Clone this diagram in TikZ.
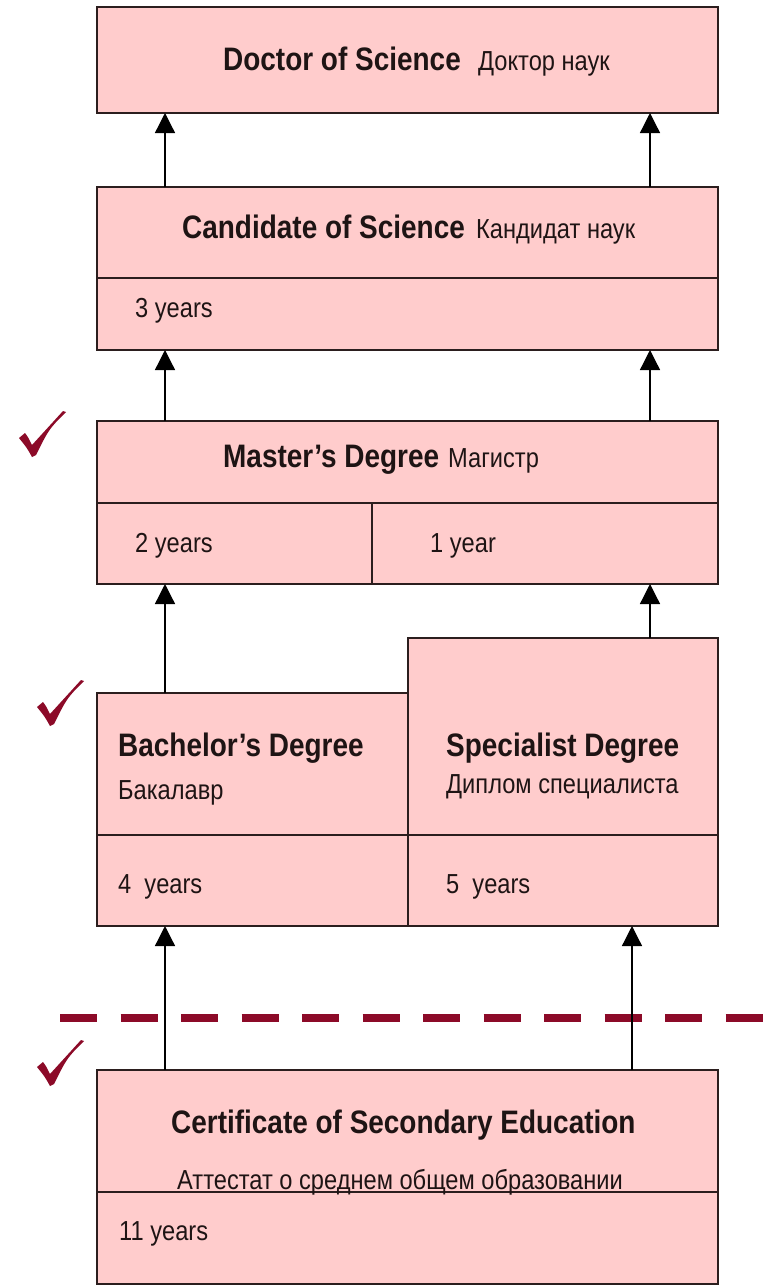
\documentclass[tikz,border=0pt]{standalone}
\usepackage{fontspec}
\setmainfont{Liberation Sans}[FakeStretch=0.86]
\usetikzlibrary{arrows.meta}
\definecolor{boxfill}{HTML}{FFCCCC}
\definecolor{boxline}{HTML}{2B1E1E}
\definecolor{darkred}{HTML}{8C0A28}
\definecolor{txt}{HTML}{1E1414}
\begin{document}
\begin{tikzpicture}[x=1pt,y=-1pt,
  box/.style={draw=boxline, fill=boxfill, line width=1.5pt, rectangle, anchor=north west, inner sep=0pt, outer sep=0pt},
  divline/.style={draw=boxline, line width=1.5pt},
  arr/.style={draw=black, line width=1.3pt, -{Triangle[width=20pt,length=20pt]}},
  ttl/.style={anchor=base west, inner sep=0pt, text=txt, font=\fontsize{32.5}{36}\selectfont\bfseries},
  sub/.style={anchor=base west, inner sep=0pt, text=txt, font=\fontsize{27.5}{30}\selectfont},
  sepline/.style={draw=darkred, line width=8pt, dash pattern=on 37pt off 23.5pt},
  chk/.pic={\fill[darkred] (0,27) -- (6,22) .. controls (9,26) .. (13,34) -- (44,0) -- (47,1) .. controls (30,18) .. (17,44) -- (13,46) .. controls (8,37) .. (0,27) -- cycle;}
]
\useasboundingbox (0,0) rectangle (769,1286);
\fill[white] (0,0) rectangle (769,1286);

% boxes
\node[box, minimum width=621pt, minimum height=106pt] (doc) at (97,7) {};
\node[box, minimum width=621pt, minimum height=163pt] (cand) at (97,187) {};
\node[box, minimum width=621pt, minimum height=163pt] (mast) at (97,421) {};
\node[box, minimum width=311pt, minimum height=233pt] (bach) at (97,693) {};
\node[box, minimum width=310pt, minimum height=288pt] (spec) at (408,638) {};
\node[box, minimum width=621pt, minimum height=214pt] (cert) at (97,1070) {};

% dividers
\draw[divline] (cand.north west) ++(0,91) -- ++(621,0);
\draw[divline] (mast.north west) ++(0,82) -- ++(621,0);
\draw[divline] (mast.north west) ++(275,82) -- ++(0,81);
\draw[divline] (bach.north west) ++(0,142) -- ++(311,0);
\draw[divline] (spec.north west) ++(0,197) -- ++(310,0);
\draw[divline] (cert.north west) ++(0,122) -- ++(621,0);

% columns for connectors
\coordinate (cL) at (165,0);
\coordinate (cR) at (650,0);
\coordinate (cR2) at (632,0);

% separator
\coordinate (sepL) at (60,1018);
\coordinate (sepR) at (769,1018);
\draw[sepline] (sepL) -- (sepR);

% connectors
\draw[arr] (cand.north -| cL) -- (doc.south -| cL);
\draw[arr] (cand.north -| cR) -- (doc.south -| cR);
\draw[arr] (mast.north -| cL) -- (cand.south -| cL);
\draw[arr] (mast.north -| cR) -- (cand.south -| cR);
\draw[arr] (bach.north -| cL) -- (mast.south -| cL);
\draw[arr] (spec.north -| cR) -- (mast.south -| cR);
\draw[arr] (cert.north -| cL) -- (bach.south -| cL);
\draw[arr] (cert.north -| cR2) -- (spec.south -| cR2);

% texts
\node[ttl] (tdoc) at (223,70) {Doctor of Science};
\node[sub] (tdocr) at (478,70) {Доктор наук};
\node[ttl] (tcand) at (182,238) {Candidate of Science};
\node[sub] (tcandr) at (476,238) {Кандидат наук};
\node[sub] (ycand) at (135,317) {3 years};
\node[ttl] (tmast) at (223,467) {Master’s Degree};
\node[sub] (tmastr) at (448,467) {Магистр};
\node[sub] (ymast1) at (135,552) {2 years};
\node[sub] (ymast2) at (430,552) {1 year};
\node[ttl] (tbach) at (118,756) {Bachelor’s Degree};
\node[sub] (tbachr) at (118,799) {Бакалавр};
\node[sub] (ybach) at (118,893) {4\ \ years};
\node[ttl] (tspec) at (446,756) {Specialist Degree};
\node[sub] (tspecr) at (446,793) {Диплом специалиста};
\node[sub] (yspec) at (446,893) {5\ \ years};
\node[ttl] (tcert) at (171,1133) {Certificate of Secondary Education};
\node[sub] (tcertr) at (177,1189) {Аттестат о среднем общем образовании};
\node[sub] (ycert) at (119,1240) {11 years};

% check marks
\pic at (19,411) {chk};
\pic at (37,680) {chk};
\pic at (37,1040) {chk};
\end{tikzpicture}
\end{document}
